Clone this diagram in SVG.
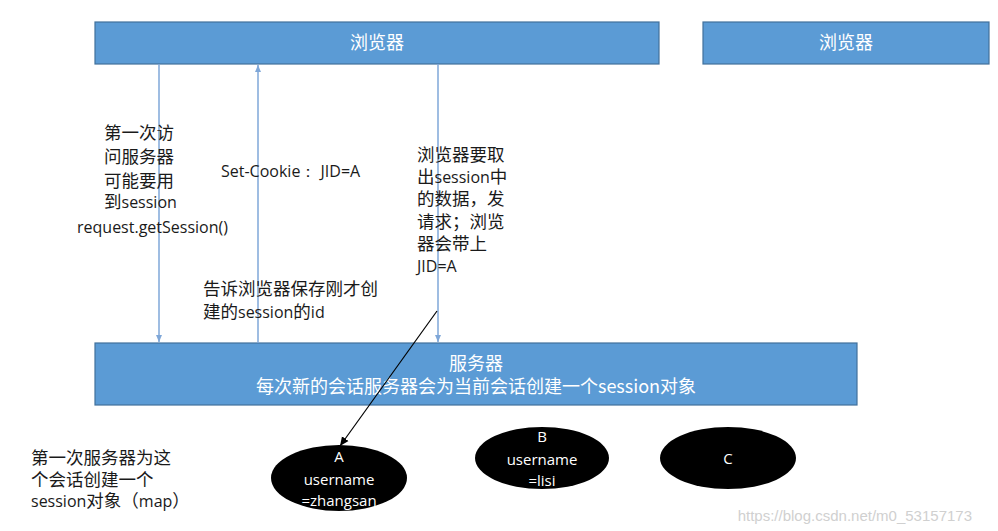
<svg xmlns="http://www.w3.org/2000/svg" width="998" height="531" viewBox="0 0 998 531">
<style>
.box{fill:#5B9BD5;stroke:#41719C;stroke-width:1.2}
.wt{fill:#ffffff;font-family:"Noto Sans CJK SC","Liberation Sans",sans-serif;font-size:18px;text-anchor:middle}
.t{fill:#1a1a1a;font-family:"Noto Sans CJK SC","Liberation Sans",sans-serif;font-size:17.5px}
.l{font-family:"Open Sans","Liberation Sans",sans-serif;font-size:16px}
.blue{stroke:#7FA7D8;stroke-width:1.5;fill:none}
.el{fill:#000}
.et{fill:#fff;font-family:"Open Sans","Liberation Sans",sans-serif;font-size:15px;text-anchor:middle}
</style>
<defs>
<marker id="ab" markerWidth="8" markerHeight="8" refX="7" refY="4" orient="auto" markerUnits="userSpaceOnUse">
<path d="M0,1 L7,4 L0,7 z" fill="#7FA7D8"/>
</marker>
<marker id="ak" markerWidth="10" markerHeight="10" refX="9" refY="5" orient="auto" markerUnits="userSpaceOnUse">
<path d="M0,1 L9,5 L0,9 z" fill="#000"/>
</marker>
</defs>
<rect x="0" y="0" width="998" height="531" fill="#ffffff"/>
<g id="browser1">
<rect class="box" x="95" y="22" width="564" height="42"/>
<text class="wt" x="377" y="49">浏览器</text>
</g>
<g id="browser2">
<rect class="box" x="703" y="22" width="286" height="42"/>
<text class="wt" x="846" y="49">浏览器</text>
</g>
<g id="server">
<rect class="box" x="95" y="343" width="762" height="62"/>
<text class="wt" x="476" y="370">服务器</text>
<text class="wt" x="476" y="393">每次新的会话服务器会为当前会话创建一个session对象</text>
</g>
<g id="sessionA">
<ellipse class="el" cx="339" cy="478" rx="68" ry="33"/>
<text class="et" x="339" y="462">A</text>
<text class="et" x="339" y="485">username</text>
<text class="et" x="339" y="506">=zhangsan</text>
</g>
<g id="sessionB">
<ellipse class="el" cx="542" cy="458" rx="67" ry="31"/>
<text class="et" x="542" y="442">B</text>
<text class="et" x="542" y="465">username</text>
<text class="et" x="542" y="486">=lisi</text>
</g>
<g id="sessionC">
<ellipse class="el" cx="728" cy="458" rx="68" ry="31"/>
<text class="et" x="728" y="464">C</text>
</g>
<g id="connectors">
<line class="blue" x1="159" y1="64" x2="159" y2="342" marker-end="url(#ab)"/>
<line class="blue" x1="258" y1="343" x2="258" y2="65" marker-end="url(#ab)"/>
<line class="blue" x1="438" y1="64" x2="438" y2="342" marker-end="url(#ab)"/>
<line x1="437" y1="311" x2="340" y2="446" stroke="#000" stroke-width="1.2" marker-end="url(#ak)"/>
</g>
<g id="labels">
<text class="t" x="104" y="139">第一次访</text>
<text class="t" x="104" y="163">问服务器</text>
<text class="t" x="104" y="187">可能要用</text>
<text class="t" x="104" y="208">到<tspan class="l">session</tspan></text>
<text class="t l" x="77" y="233">request.getSession()</text>
<text class="t l" x="221" y="177">Set-Cookie：  JID=A</text>
<text class="t" x="203" y="295">告诉浏览器保存刚才创</text>
<text class="t" x="203" y="318">建的<tspan class="l">session</tspan>的<tspan class="l">id</tspan></text>
<text class="t" x="417" y="161">浏览器要取</text>
<text class="t" x="417" y="183">出<tspan class="l">session</tspan>中</text>
<text class="t" x="417" y="205">的数据，发</text>
<text class="t" x="417" y="228">请求；浏览</text>
<text class="t" x="417" y="250">器会带上</text>
<text class="t l" x="417" y="272" font-size="14">JID=A</text>
<text class="t" x="31" y="464">第一次服务器为这</text>
<text class="t" x="31" y="486">个会话创建一个</text>
<text class="t" x="31" y="507"><tspan class="l">session</tspan>对象（<tspan class="l">map</tspan>）</text>
</g>
<text x="972" y="521" text-anchor="end" fill="#d0d0d0" font-family="Liberation Sans, sans-serif" font-size="15">https://blog.csdn.net/m0_53157173</text>
</svg>
